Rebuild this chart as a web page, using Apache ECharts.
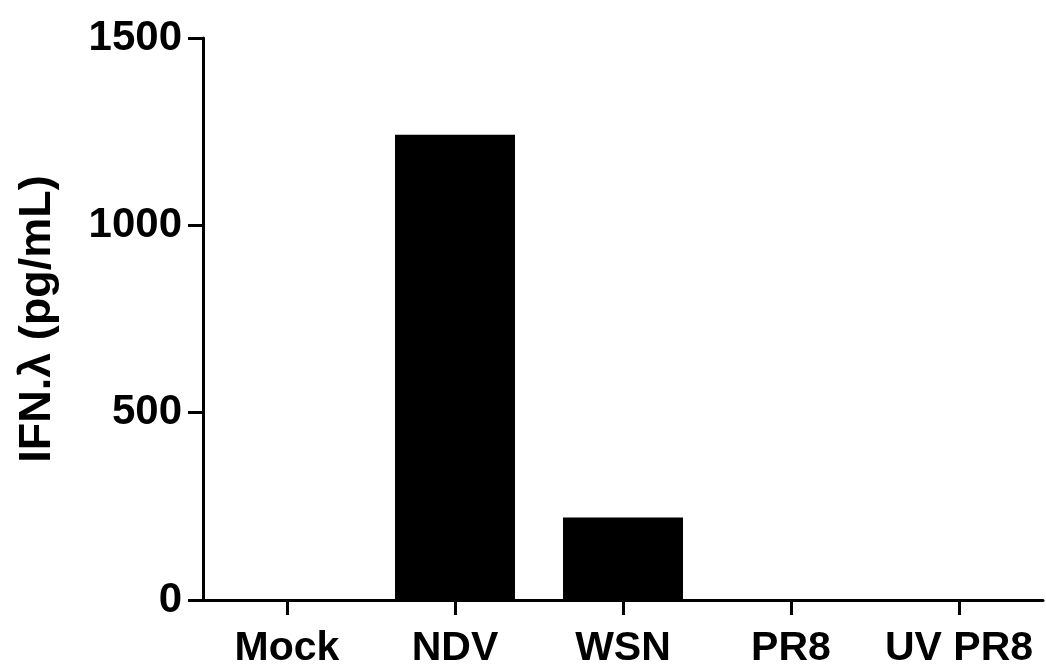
<!DOCTYPE html>
<html>
<head>
<meta charset="utf-8">
<script src="https://cdn.jsdelivr.net/npm/echarts@6/dist/echarts.min.js"></script>
<style>
html,body{margin:0;padding:0;background:#fff;}
#c{width:1046px;height:670px;}
</style>
</head>
<body>
<div id="c"></div>
<script>
const categories = ['Mock', 'NDV', 'WSN', 'PR8', 'UV PR8'];
const values = [0, 1242, 220, 0, 0];
const yTicks = [0, 500, 1000, 1500];
const yTitle = 'IFN.\u03bb (pg/mL)';

const chart = echarts.init(document.getElementById('c'), null, {renderer: 'canvas'});
const font = '"Liberation Sans", Arial, Helvetica, sans-serif';
chart.setOption({
  animation: false,
  backgroundColor: '#fff',
  grid: {left: 203, right: 3, top: 38, bottom: 70, containLabel: false},
  xAxis: {
    type: 'category',
    data: categories,
    boundaryGap: true,
    axisLine: {lineStyle: {color: '#000', width: 3}},
    axisTick: {show: true, alignWithLabel: true, length: 15, lineStyle: {color: '#000', width: 3}},
    axisLabel: {color: '#000', fontSize: 41, fontWeight: 'bold', fontFamily: font, margin: 28, interval: 0}
  },
  yAxis: {
    type: 'value',
    min: yTicks[0],
    max: yTicks[yTicks.length - 1],
    interval: yTicks[1] - yTicks[0],
    name: yTitle,
    nameLocation: 'middle',
    nameGap: 143,
    nameRotate: 90,
    nameTextStyle: {color: '#000', fontSize: 45, fontWeight: 'bold', fontFamily: font},
    axisLine: {show: true, lineStyle: {color: '#000', width: 3}},
    axisTick: {show: true, length: 15, lineStyle: {color: '#000', width: 3}},
    axisLabel: {color: '#000', fontSize: 42, fontWeight: 'bold', fontFamily: font, margin: 21,
      formatter: function (v) { return String(v); }},
    splitLine: {show: false}
  },
  series: [{
    type: 'bar',
    data: values,
    barWidth: 120,
    itemStyle: {color: '#000'}
  }]
});
</script>
</body>
</html>
